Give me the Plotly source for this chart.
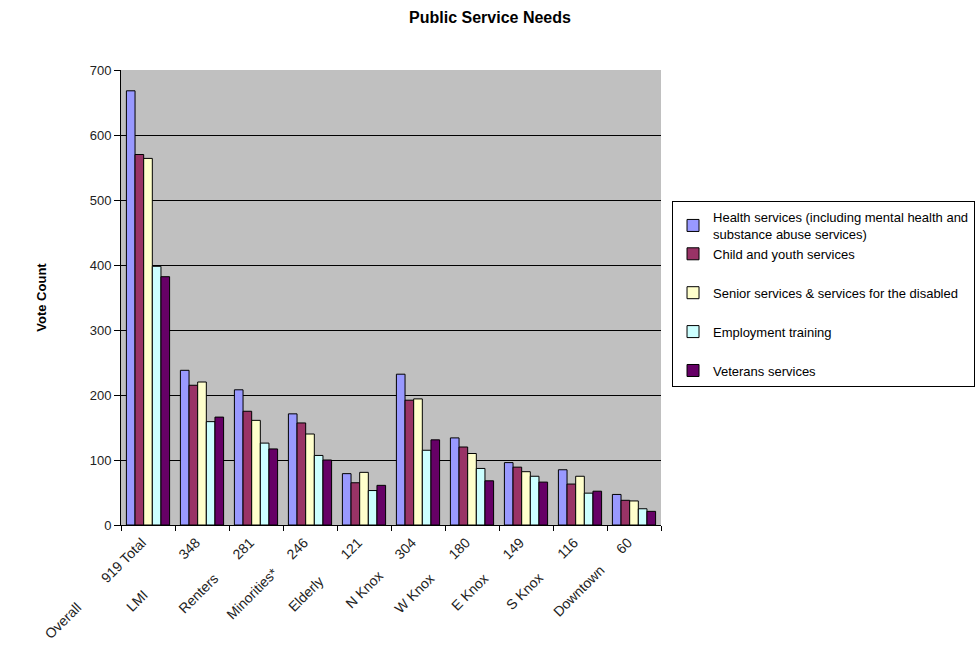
import plotly.graph_objects as go

# ---- data ----
categories = ["Overall", "LMI", "Renters", "Minorities*", "Elderly",
              "N Knox", "W Knox", "E Knox", "S Knox", "Downtown"]
respondents = ["919 Total", "348", "281", "246", "121",
               "304", "180", "149", "116", "60"]
label_gap = [9, 13, 7, 5, 8, 6, 7, 7, 7, 6]   # spaces between name and count

series_names = [
    "Health services (including mental health and<br>substance abuse services)",
    "Child and youth services",
    "Senior services & services for the disabled",
    "Employment training",
    "Veterans services",
]
health = [668, 238, 208, 171, 79, 232, 134, 96, 85, 47]
child = [570, 215, 175, 157, 65, 192, 120, 89, 63, 38]
senior = [564, 220, 161, 140, 81, 194, 110, 82, 75, 37]
employment = [398, 159, 126, 107, 53, 115, 87, 75, 49, 25]
veterans = [382, 166, 117, 100, 61, 131, 68, 66, 52, 21]

y_ticks = [0, 100, 200, 300, 400, 500, 600, 700]
grid_vals = [100, 200, 300, 400, 500, 600]

colors = ["#9999FF", "#993366", "#FFFFCC", "#CCFFFF", "#660066"]
groups = ["g1", "g1", "g2", "g3", "g4"]

FONT = "Liberation Sans, Arial, sans-serif"

tick_text = [c + "\u00a0" * g + r for c, r, g in zip(categories, respondents, label_gap)]

fig = go.Figure()
for name, vals, col, grp in zip(series_names,
                                [health, child, senior, employment, veterans],
                                colors, groups):
    fig.add_trace(go.Bar(
        x=categories, y=vals, name=name, legendgroup=grp,
        marker=dict(color=col, line=dict(color="black", width=1)),
    ))

fig.update_layout(
    width=980, height=649,
    margin=dict(l=121, r=319, t=70, b=124, autoexpand=False),
    paper_bgcolor="white",
    plot_bgcolor="#C0C0C0",
    barmode="group",
    bargap=0.2,
    bargroupgap=0,
    font=dict(family=FONT, size=13, color="black"),
    title=dict(text="<b>Public Service Needs</b>", x=0.5, xref="container",
               xanchor="center", y=1 - 17 / 649, yref="container",
               yanchor="middle", font=dict(size=16, color="black", family=FONT)),
    legend=dict(
        x=1.0204, xanchor="left", y=0.712, yanchor="top",
        bgcolor="white", bordercolor="black", borderwidth=1,
        font=dict(size=13, color="black", family=FONT),
        tracegroupgap=19, traceorder="grouped",
        itemwidth=30,
    ),
    showlegend=True,
)

fig.update_xaxes(
    type="category",
    tickmode="array", tickvals=categories, ticktext=tick_text,
    tickangle=-45,
    tickson="boundaries",
    ticks="outside", ticklen=5, tickcolor="black", tickwidth=1,
    ticklabelshift=-6, ticklabelstandoff=3,
    showline=True, linecolor="black", linewidth=1,
    showgrid=False, automargin=False,
    tickfont=dict(size=14, color="#222222", family=FONT),
)

fig.update_yaxes(
    range=[0, 700],
    tickmode="array", tickvals=y_ticks,
    ticks="outside", ticklen=6, tickcolor="black", tickwidth=1,
    showline=True, linecolor="black", linewidth=1,
    showgrid=False, zeroline=False, automargin=False,
    minor=dict(tickmode="array", tickvals=grid_vals, showgrid=True,
               gridcolor="black", gridwidth=1, ticks=""),
    tickfont=dict(size=13, color="#222222", family=FONT),
    title=dict(text="<b>Vote Count</b>", standoff=40,
               font=dict(size=13, color="black", family=FONT)),
)

fig.write_html("out.html",
               config={"displayModeBar": False},
               post_script="document.body.style.margin='0';document.body.style.overflow='hidden';")
